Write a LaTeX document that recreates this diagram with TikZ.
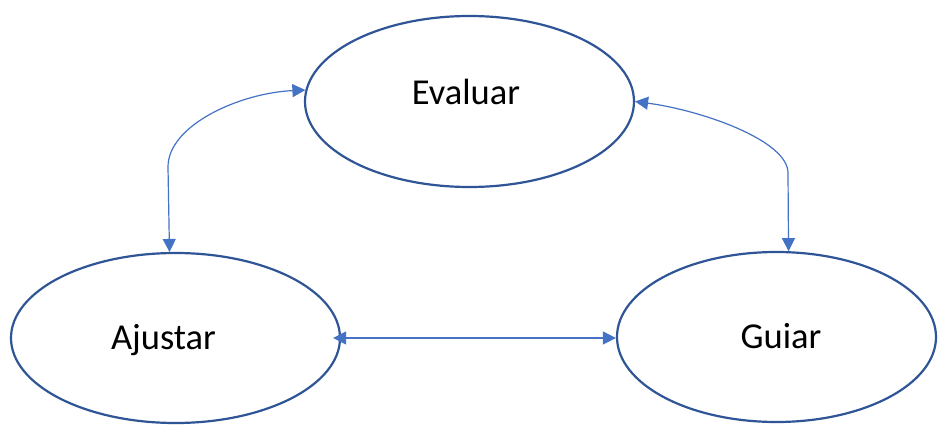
\documentclass[tikz,border=0pt]{standalone}
\usepackage{fontspec}
\setmainfont{Carlito}
\usetikzlibrary{arrows.meta,shapes.geometric}
\definecolor{ringblue}{HTML}{2F5597}
\definecolor{linkblue}{HTML}{4472C4}
\begin{document}
\begin{tikzpicture}[x=1pt,y=-1pt,
  ring/.style={draw=ringblue,line width=2.2pt,ellipse,inner sep=0pt},
  lbl/.style={anchor=base,font=\fontsize{36.5}{40}\selectfont,text=black,inner sep=0pt},
  link/.style={draw=linkblue,line width=1.2pt,{Triangle[length=13pt,width=13pt]}-{Triangle[length=13pt,width=13pt]}}]
\useasboundingbox[fill=white] (0,0) rectangle (938,425);
\node[ring,minimum width=329pt,minimum height=171pt] (ev) at (469.5,101.5) {};
\node[ring,minimum width=329pt,minimum height=170pt] (aj) at (175.5,338) {};
\node[ring,minimum width=319pt,minimum height=170pt] (gu) at (776.5,337) {};
\node[lbl] (evt) at (466,105) {Evaluar};
\node[lbl] (ajt) at (163.5,349) {Ajustar};
\node[lbl] (gut) at (781,348) {Guiar};
\coordinate (lbend) at (168,167);
\coordinate (rbend) at (788,173);
\draw[link] (aj.94) -- (lbend) .. controls (168,125) and (240,93) .. (ev.176);
\draw[link] (ev.east) .. controls (700,110) and (788,140) .. (rbend) -- (gu.82);
\draw[link] ([xshift=-8pt]aj.east) -- (aj.east -| gu.west);
\end{tikzpicture}
\end{document}
